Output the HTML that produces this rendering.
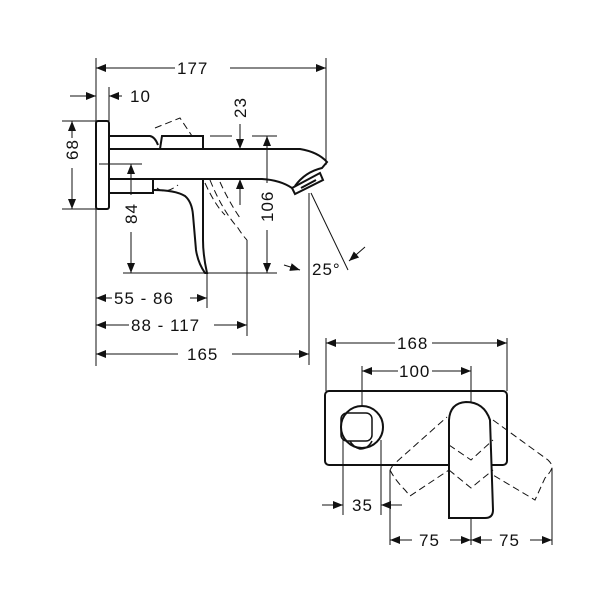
<!DOCTYPE html>
<html><head><meta charset="utf-8"><style>
html,body{margin:0;padding:0;background:#fff;}
svg{display:block;}
text{font-family:"Liberation Sans",sans-serif;font-size:17px;fill:#111;letter-spacing:1px;}
</style></head><body>
<svg width="600" height="600" viewBox="0 0 600 600" xmlns="http://www.w3.org/2000/svg">
<defs>
<marker id="a" viewBox="0 0 10 8" refX="10" refY="4" markerWidth="10" markerHeight="8" markerUnits="userSpaceOnUse" orient="auto-start-reverse"><path d="M0,0 L10,4 L0,8z" fill="#111"/></marker>
</defs>
<g stroke="#111" fill="none" stroke-width="1">
<line x1="96" y1="58" x2="96" y2="366"/>
<line x1="326" y1="58" x2="326" y2="165"/>
<line x1="109" y1="87" x2="109" y2="121"/>
<line x1="62" y1="121" x2="96" y2="121"/>
<line x1="62" y1="209" x2="96" y2="209"/>
<line x1="99" y1="164" x2="142" y2="164"/>
<line x1="123" y1="273" x2="277" y2="273"/>
<line x1="210" y1="136" x2="232" y2="136"/>
<line x1="252" y1="136" x2="277" y2="136"/>
<line x1="207" y1="273" x2="207" y2="308"/>
<line x1="247" y1="240" x2="247" y2="336"/>
<line x1="309" y1="193" x2="309" y2="365"/>
<line x1="311" y1="193" x2="348" y2="270"/>
<line x1="96" y1="68" x2="175" y2="68" marker-start="url(#a)"/>
<line x1="230" y1="68" x2="326" y2="68" marker-end="url(#a)"/>
<line x1="70" y1="96" x2="96" y2="96" marker-end="url(#a)"/>
<line x1="122" y1="96" x2="109" y2="96" marker-end="url(#a)"/>
<line x1="72" y1="121" x2="72" y2="138" marker-start="url(#a)"/>
<line x1="72" y1="168" x2="72" y2="209" marker-end="url(#a)"/>
<line x1="131" y1="164" x2="131" y2="195" marker-start="url(#a)"/>
<line x1="131" y1="232" x2="131" y2="273" marker-end="url(#a)"/>
<line x1="240" y1="124" x2="240" y2="149" marker-end="url(#a)"/>
<line x1="240" y1="205" x2="240" y2="179" marker-end="url(#a)"/>
<line x1="267" y1="136" x2="267" y2="183" marker-start="url(#a)"/>
<line x1="267" y1="230" x2="267" y2="273" marker-end="url(#a)"/>
<line x1="284" y1="265" x2="300" y2="270" marker-end="url(#a)"/>
<line x1="365" y1="247" x2="349" y2="261" marker-end="url(#a)"/>
<line x1="96" y1="298" x2="112" y2="298" marker-start="url(#a)"/>
<line x1="190" y1="298" x2="207" y2="298" marker-end="url(#a)"/>
<line x1="96" y1="325" x2="129" y2="325" marker-start="url(#a)"/>
<line x1="214" y1="325" x2="247" y2="325" marker-end="url(#a)"/>
<line x1="96" y1="354" x2="178" y2="354" marker-start="url(#a)"/>
<line x1="232" y1="354" x2="309" y2="354" marker-end="url(#a)"/>
<g stroke-width="2">
<rect x="96" y="121" width="13" height="88" rx="2"/>
<path d="M109,136 L150,136 Q155,137 158,145"/>
<path d="M160,149 L162,136 L203,136 L203,149"/>
<path d="M109,149 L300,149 Q318,152 327,162 L322,168 Q305,172 295,186"/>
<path d="M109,179 L262,179 Q280,180 292,188"/>
<path d="M292,188 L320,173 L323,180 L295,194 Z"/>
<path d="M301,188 L316,180"/>
<path d="M109,193 L153,193 L153,180"/>
<path d="M153,190 Q175,190 185,196 Q192,202 193,215 L196,250 Q198,263 205,273 L207,273 Q203,255 203,240 L203,180"/>
</g>
<g stroke-dasharray="7,4">
<path d="M155,128 L180,118 L192,136"/>
<path d="M205,183 Q215,205 225,215"/>
<path d="M210,180 Q222,210 238,228 Q243,236 247,240"/>
<path d="M220,182 Q228,200 240,218"/>
<path d="M157,188 Q165,195 178,185"/>
</g>
<line x1="326" y1="338" x2="326" y2="391"/>
<line x1="507" y1="338" x2="507" y2="391"/>
<line x1="362" y1="366" x2="362" y2="406"/>
<line x1="471" y1="366" x2="471" y2="545"/>
<line x1="343" y1="440" x2="343" y2="515"/>
<line x1="381" y1="440" x2="381" y2="515"/>
<line x1="390" y1="470" x2="390" y2="545"/>
<line x1="552" y1="468" x2="552" y2="545"/>
<line x1="326" y1="343" x2="395" y2="343" marker-start="url(#a)"/>
<line x1="432" y1="343" x2="507" y2="343" marker-end="url(#a)"/>
<line x1="362" y1="371" x2="398" y2="371" marker-start="url(#a)"/>
<line x1="432" y1="371" x2="471" y2="371" marker-end="url(#a)"/>
<line x1="322" y1="505" x2="343" y2="505" marker-end="url(#a)"/>
<line x1="402" y1="505" x2="381" y2="505" marker-end="url(#a)"/>
<line x1="390" y1="540" x2="412" y2="540" marker-start="url(#a)"/>
<line x1="450" y1="540" x2="471" y2="540" marker-end="url(#a)"/>
<line x1="471" y1="540" x2="492" y2="540" marker-start="url(#a)"/>
<line x1="530" y1="540" x2="552" y2="540" marker-end="url(#a)"/>
<g stroke-width="2">
<rect x="325" y="391" width="182" height="74" rx="4"/>
<circle cx="362" cy="427" r="21"/>
<rect x="341" y="413" width="31" height="28" rx="6" stroke-width="1.5"/>
<path d="M350,441 Q353,447 360,449 Q368,449 372,441" stroke-width="1.5"/>
<path d="M449,518 L449,420 Q450,403 466,402 Q484,402 490,420 L493,510 Q493,518 485,518 Z" fill="#fff"/>
</g>
<g stroke-dasharray="7,4">
<path d="M390,470 L393,465 L447,417"/>
<path d="M390,470 Q395,480 405,490 L410,496 L449,470"/>
<path d="M449,445 L471,460 L493,440"/>
<path d="M493,420 L548,460 Q553,465 552,468"/>
<path d="M552,468 Q550,473 545,478 L535,500 L493,475"/>
<path d="M449,470 L471,488 L493,470"/>
</g>
</g>
<text x="177" y="74">177</text>
<text x="130" y="102">10</text>
<text x="187" y="360">165</text>
<text x="114" y="304">55 - 86</text>
<text x="131" y="331">88 - 117</text>
<text x="312" y="275">25°</text>
<g transform="translate(78,150) rotate(-90)"><text x="-10" y="0">68</text></g>
<g transform="translate(137,214) rotate(-90)"><text x="-10" y="0">84</text></g>
<g transform="translate(246,108) rotate(-90)"><text x="-10" y="0">23</text></g>
<g transform="translate(273,207) rotate(-90)"><text x="-15" y="0">106</text></g>
<text x="397" y="349">168</text>
<text x="399" y="377">100</text>
<text x="352" y="511">35</text>
<text x="419" y="546">75</text>
<text x="499" y="546">75</text>
</svg>
</body></html>
